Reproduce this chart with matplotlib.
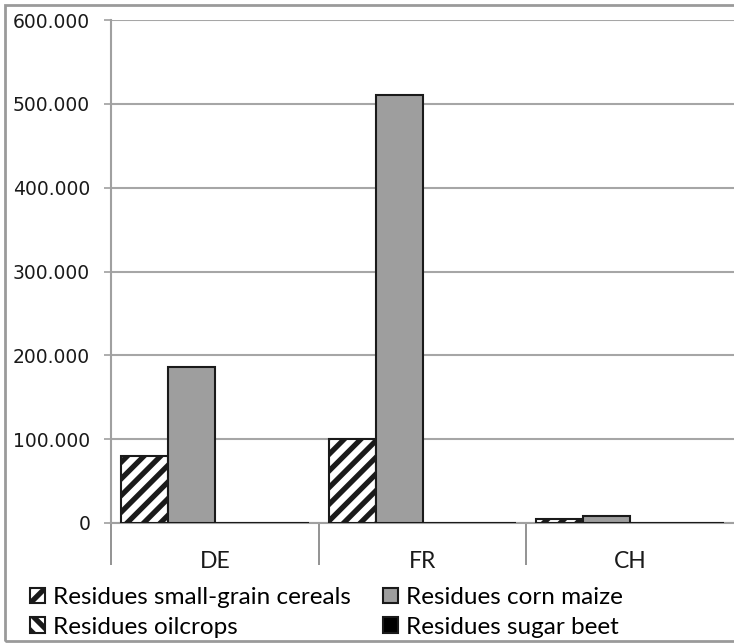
import matplotlib.pyplot as plt
import numpy as np
from matplotlib.patches import Rectangle
from matplotlib.ticker import FuncFormatter

plt.rcParams['hatch.linewidth'] = 3.8

# data (tonnes)
countries = ['DE', 'FR', 'CH']
series_names = ['Residues small-grain cereals', 'Residues corn maize',
                'Residues oilcrops', 'Residues sugar beet']
small_grain = [80000, 100000, 5000]
corn_maize = [186000, 510000, 8500]
oilcrops = [500, 0, 0]
sugar_beet = [0, 0, 0]
y_ticks = [0, 100000, 200000, 300000, 400000, 500000, 600000]

series = [small_grain, corn_maize, oilcrops, sugar_beet]
styles = [dict(facecolor='white', hatch='//'),
          dict(facecolor='#9e9e9e', hatch=None),
          dict(facecolor='white', hatch='\\\\'),
          dict(facecolor='black', hatch=None)]

W, H = 734, 644
fig = plt.figure(figsize=(W / 100, H / 100), dpi=100)
ax = fig.add_axes([111 / W, 1 - 523 / H, 623 / W, 503 / H])

x = np.arange(len(countries))
bw = 0.2263
bars = []
for i, (vals, st) in enumerate(zip(series, styles)):
    b = ax.bar(x + (i - 1.5) * bw, vals, bw, edgecolor='#1a1a1a', linewidth=1.5,
               label=series_names[i], zorder=3, **st)
    bars.append(b)

ax.set_xlim(-0.5, 2.5)
ax.set_ylim(0, 600000)
ax.set_yticks(y_ticks)
ax.yaxis.set_major_formatter(FuncFormatter(lambda v, p: f'{int(v):,}'.replace(',', '.')))
ax.tick_params(axis='y', length=5, width=1.2, color='#a0a0a0', pad=10,
               labelsize=13.5, labelcolor='#1a1a1a')
for lab in ax.get_yticklabels():
    lab.set_family('DejaVu Sans')
ax.grid(axis='y', color='#a6a6a6', linewidth=1.5, zorder=0)

ax.set_xticks([-0.5, 0.5, 1.5])
ax.set_xticklabels([])
ax.set_xticks(x, minor=True)
ax.set_xticklabels(countries, minor=True, fontsize=16.5, family='Lato', color='#1a1a1a')
ax.tick_params(axis='x', which='major', length=30, width=1.2, color='#808080')
ax.tick_params(axis='x', which='minor', length=0, pad=20)

for s in ['top', 'right']:
    ax.spines[s].set_visible(False)
for s in ['left', 'bottom']:
    ax.spines[s].set_color('#a0a0a0')
    ax.spines[s].set_linewidth(1.5)

# two legend columns, placed separately
leg_kw = dict(loc='upper left', frameon=False, prop={'family': 'Lato', 'size': 17.5},
              handlelength=0.62, handleheight=0.62, handletextpad=0.34,
              labelspacing=0.35, borderpad=0, borderaxespad=0)
fig.legend([bars[0], bars[2]], [series_names[0], series_names[2]],
           bbox_to_anchor=(30 / W, 1 - 587 / H), **leg_kw)
fig.legend([bars[1], bars[3]], [series_names[1], series_names[3]],
           bbox_to_anchor=(383 / W, 1 - 587 / H), **leg_kw)

# outer chart frame
fig.add_artist(Rectangle((5 / W, 3 / H), 1.0, 1 - 8 / H, transform=fig.transFigure,
                         fill=False, edgecolor='#9a9a9a', linewidth=2))

fig.savefig('out.png', dpi=100)
